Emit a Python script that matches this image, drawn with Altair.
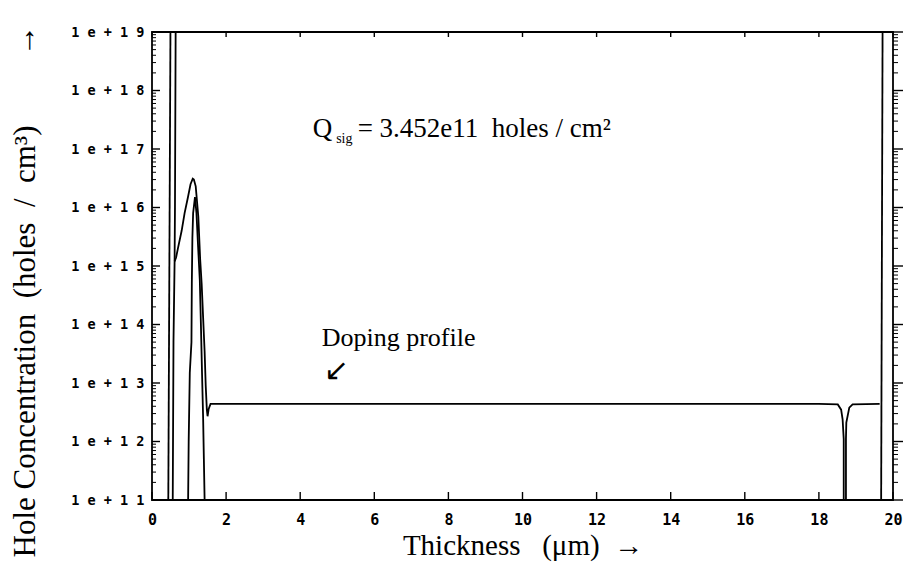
import altair as alt
import pandas as pd

# ---------------- data ----------------
X_DOMAIN = [0, 20]
Y_DOMAIN = [1e11, 1e19]
X_TICKS = [0, 2, 4, 6, 8, 10, 12, 14, 16, 18, 20]
Y_TICKS = [1e11, 1e12, 1e13, 1e14, 1e15, 1e16, 1e17, 1e18, 1e19]
Y_TICK_LABELS = ["1e+11", "1e+12", "1e+13", "1e+14", "1e+15", "1e+16", "1e+17", "1e+18", "1e+19"]
Y_MINOR = [k * 10.0 ** n for n in range(11, 19) for k in range(2, 10)]

# left vertical boundary line
SA_X = [0.44, 0.50]
SA_Y = [1e11, 2e19]
# second near-vertical line (from bottom up to the top)
SB_X = [0.56, 0.58, 0.61, 0.62, 0.64]
SB_Y = [1e11, 5e13, 1.2e15, 1e16, 2e19]
# doping profile: implant peak + flat bulk + back dip
DP_X = [0.61, 0.65, 0.70, 0.80, 0.88, 0.97, 1.04, 1.10, 1.13, 1.18, 1.25, 1.30, 1.34,
        1.38, 1.42, 1.45, 1.48, 1.50, 1.53, 1.58, 3.0, 6.0, 10.0, 14.0, 18.0, 18.51,
        18.60, 18.64, 18.67, 18.67, 18.73, 18.73, 18.74, 18.82, 18.91, 19.64]
DP_Y = [1.2e15, 1.4e15, 2e15, 4e15, 8e15, 1.5e16, 2.5e16, 3.1e16, 3.0e16, 2.3e16, 7e15,
        1.3e15, 5e14, 1.3e14, 3.5e13, 9e12, 3.5e12, 2.7e12, 3.6e12, 4.4e12, 4.4e12,
        4.4e12, 4.4e12, 4.4e12, 4.4e12, 4.3e12, 3.5e12, 2.4e12, 1.1e12, 1e11, 1e11,
        1.1e12, 2.1e12, 3.8e12, 4.3e12, 4.4e12]
# second (smaller) peak
SP_X = [0.975, 0.99, 1.02, 1.065, 1.075, 1.09, 1.11, 1.16, 1.20, 1.245, 1.29, 1.32,
        1.35, 1.38, 1.40, 1.42]
SP_Y = [1e11, 1e12, 1.5e13, 5e13, 5e14, 3e15, 8e15, 1.5e16, 8e15, 2.1e15, 5.8e14,
        1e14, 1.5e13, 2.5e12, 5e11, 1e11]
# right vertical boundary line
SR_X = [19.68, 19.72]
SR_Y = [1e11, 2e19]

Q_POS = (4.34, 1.6e17)
SIG_POS = (4.97, 1.6e17)
QVAL_POS = (5.55, 1.6e17)
QVAL_TEXT = "= 3.452e11\u00a0\u00a0holes / cm\u00b2"
DOP_POS = (4.58, 4.3e13)
DOP_TEXT = "Doping profile"
ARROW_POS = (4.98, 1.6e13)

NB = "\u00a0"
X_TITLE = "Thickness" + NB * 3 + "(\u03bcm)" + NB * 2 + "\u2192"
Y_TITLE = ("Hole Concentration" + NB * 2 + "(holes" + NB * 2 + "/" + NB * 2 + "cm\u00b3)"
           + NB * 9 + "\u2192")

# ---------------- build ----------------
rows = []
for name, xs_, ys_ in [("a", SA_X, SA_Y), ("b", SB_X, SB_Y), ("dp", DP_X, DP_Y),
                       ("sp", SP_X, SP_Y), ("r", SR_X, SR_Y)]:
    for i, (xv, yv) in enumerate(zip(xs_, ys_)):
        rows.append({"x": xv, "y": yv, "s": name, "i": i})
lines_df = pd.DataFrame(rows)

W, H = 741, 468
xs = alt.Scale(domain=X_DOMAIN, nice=False, zero=False)
ys = alt.Scale(type="log", domain=Y_DOMAIN, nice=False)

spaced = [" ".join(s) for s in Y_TICK_LABELS]
label_expr = "[" + ",".join("'" + s + "'" for s in spaced) + "][round(log(datum.value)/LN10) - 11]"

x_axis = alt.Axis(values=X_TICKS, ticks=False, domain=False, grid=False,
                  labelFont="DejaVu Sans Mono", labelFontSize=15, labelFontWeight="bold",
                  labelColor="black", labelPadding=12, labelFlush=False, labelOverlap=False,
                  labelBaseline="top",
                  title=X_TITLE, titleFont="Liberation Serif", titleFontSize=29,
                  titleFontWeight="normal", titleColor="black", titleBaseline="alphabetic",
                  titleY=54)
y_axis = alt.Axis(values=Y_TICKS, ticks=False, domain=False, grid=False,
                  labelExpr=label_expr, labelFont="DejaVu Sans Mono", labelFontSize=13.5,
                  labelFontWeight="bold", labelColor="black", labelPadding=8,
                  labelFlush=False, labelOverlap=False,
                  title=Y_TITLE, titleFont="Liberation Serif", titleFontSize=31,
                  titleFontWeight="normal", titleColor="black", titleAngle=270,
                  titleAlign="left", titleBaseline="alphabetic", titleX=-118, titleY=525)

lines = alt.Chart(lines_df).mark_line(color="black", strokeWidth=1.8, clip=True).encode(
    x=alt.X("x:Q", scale=xs, axis=x_axis),
    y=alt.Y("y:Q", scale=ys, axis=y_axis),
    detail="s:N",
    order="i:Q",
)

ymaj = pd.DataFrame({"v": Y_TICKS})
ymin = pd.DataFrame({"v": Y_MINOR})
xmaj = pd.DataFrame({"v": X_TICKS})

def yrule(df, x1, x2, sw):
    return alt.Chart(df).mark_rule(color="black", strokeWidth=sw).encode(
        y=alt.Y("v:Q", scale=ys, axis=y_axis), x=alt.value(x1), x2=alt.value(x2))

def xrule(df, y1, y2, sw):
    return alt.Chart(df).mark_rule(color="black", strokeWidth=sw).encode(
        x=alt.X("v:Q", scale=xs, axis=x_axis), y=alt.value(y1), y2=alt.value(y2))

ticks = [
    yrule(ymaj, 0, 8, 1.4), yrule(ymin, 0, 4, 1.0),
    yrule(ymaj, W, W + 10, 1.4), yrule(ymin, W, W + 5, 1.0),
    xrule(xmaj, H, H - 8, 1.4), xrule(xmaj, 0, 5, 1.4),
]

def text_layer(pos, txt, size, font="Liberation Serif", dy=0, align="left", baseline="alphabetic"):
    df = pd.DataFrame({"x": [pos[0]], "y": [pos[1]], "t": [txt]})
    return alt.Chart(df).mark_text(font=font, fontSize=size, color="black", align=align,
                                   baseline=baseline, dy=dy).encode(
        x=alt.X("x:Q", scale=xs, axis=x_axis), y=alt.Y("y:Q", scale=ys, axis=y_axis),
        text="t:N")

texts = [
    text_layer(Q_POS, "Q", 27),
    text_layer(SIG_POS, "sig", 14, dy=6),
    text_layer(QVAL_POS, QVAL_TEXT, 27),
    text_layer(DOP_POS, DOP_TEXT, 26),
    text_layer(ARROW_POS, "\u2199", 30, font="DejaVu Sans", align="center", baseline="middle"),
]

chart = alt.layer(lines, *ticks, *texts).properties(
    width=W, height=H,
    autosize=alt.AutoSizeParams(type="none"),
    padding={"left": 152, "top": 32, "right": 14, "bottom": 71},
    background="white",
).configure_view(stroke="black", strokeWidth=1.8)

chart.save("out.html", embed_options={"renderer": "svg", "actions": False})
